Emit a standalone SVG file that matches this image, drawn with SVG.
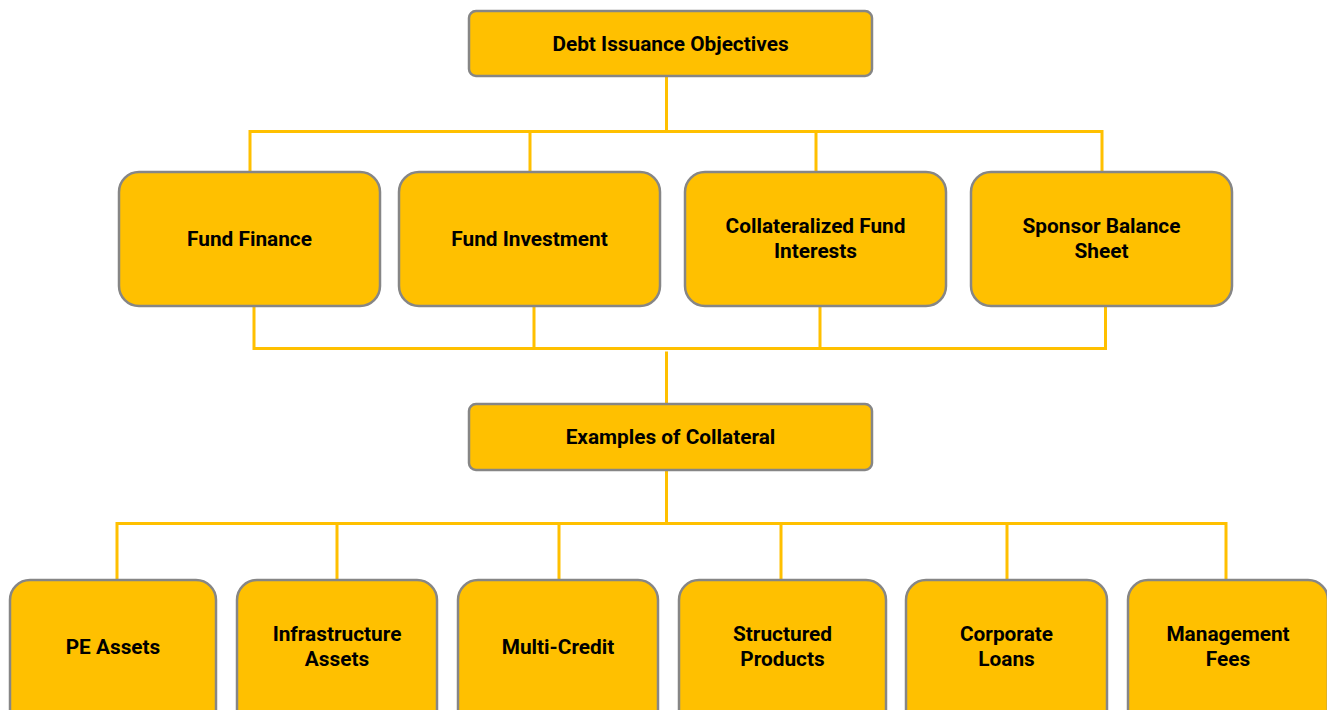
<svg xmlns="http://www.w3.org/2000/svg" width="1327" height="710" viewBox="0 0 1327 710">
  <style>
    .box { fill: #FFC000; stroke: #868686; stroke-width: 2.5; }
    .lbl { font-family: Roboto, "Liberation Sans", sans-serif; font-weight: bold; font-size: 20.8px; fill: #000; text-anchor: middle; dominant-baseline: central; }
    .wire { fill: none; stroke: #FFC000; stroke-width: 3; stroke-linecap: square; }
  </style>
  <rect width="1327" height="710" fill="#ffffff"/>

  <!-- connectors -->
  <g id="connectors">
    <path class="wire" d="M666.5 77 V131.5 M250 171 V131.5 H1102 V171 M530 131.5 V171 M816 131.5 V171"/>
    <path class="wire" d="M254 307 V348.5 H1105.5 V307 M534 307 V348.5 M820 307 V348.5"/>
    <path class="wire" d="M666.5 353 V402"/>
    <path class="wire" d="M666.5 471 V523.5"/>
    <path class="wire" d="M117 579 V523.5 H1226 V579 M337 523.5 V579 M559 523.5 V579 M781 523.5 V579 M1007 523.5 V579"/>
  </g>

  <!-- top level -->
  <g id="debt-issuance-objectives">
    <rect class="box" x="469" y="11" width="403" height="65" rx="7"/>
    <text class="lbl" x="670.5" y="44">Debt Issuance Objectives</text>
  </g>

  <!-- objectives -->
  <g id="fund-finance">
    <rect class="box" x="119" y="172" width="261" height="134" rx="20"/>
    <text class="lbl" x="249.5" y="239">Fund Finance</text>
  </g>
  <g id="fund-investment">
    <rect class="box" x="399" y="172" width="261" height="134" rx="20"/>
    <text class="lbl" x="529.5" y="239">Fund Investment</text>
  </g>
  <g id="collateralized-fund-interests">
    <rect class="box" x="685" y="172" width="261" height="134" rx="20"/>
    <text class="lbl" x="815.5" y="226">Collateralized Fund</text>
    <text class="lbl" x="815.5" y="251">Interests</text>
  </g>
  <g id="sponsor-balance-sheet">
    <rect class="box" x="971" y="172" width="261" height="134" rx="20"/>
    <text class="lbl" x="1101.5" y="226">Sponsor Balance</text>
    <text class="lbl" x="1101.5" y="251">Sheet</text>
  </g>

  <!-- collateral heading -->
  <g id="examples-of-collateral">
    <rect class="box" x="469" y="404" width="403" height="66" rx="7"/>
    <text class="lbl" x="670.5" y="437">Examples of Collateral</text>
  </g>

  <!-- collateral types -->
  <g id="pe-assets">
    <rect class="box" x="10" y="580" width="206" height="150" rx="20"/>
    <text class="lbl" x="113" y="647">PE Assets</text>
  </g>
  <g id="infrastructure-assets">
    <rect class="box" x="237" y="580" width="200" height="150" rx="20"/>
    <text class="lbl" x="337" y="634">Infrastructure</text>
    <text class="lbl" x="337" y="659">Assets</text>
  </g>
  <g id="multi-credit">
    <rect class="box" x="458" y="580" width="200" height="150" rx="20"/>
    <text class="lbl" x="558" y="647">Multi-Credit</text>
  </g>
  <g id="structured-products">
    <rect class="box" x="679" y="580" width="207" height="150" rx="20"/>
    <text class="lbl" x="782.5" y="634">Structured</text>
    <text class="lbl" x="782.5" y="659">Products</text>
  </g>
  <g id="corporate-loans">
    <rect class="box" x="906" y="580" width="201" height="150" rx="20"/>
    <text class="lbl" x="1006.5" y="634">Corporate</text>
    <text class="lbl" x="1006.5" y="659">Loans</text>
  </g>
  <g id="management-fees">
    <rect class="box" x="1128" y="580" width="200" height="150" rx="20"/>
    <text class="lbl" x="1228" y="634">Management</text>
    <text class="lbl" x="1228" y="659">Fees</text>
  </g>
</svg>
